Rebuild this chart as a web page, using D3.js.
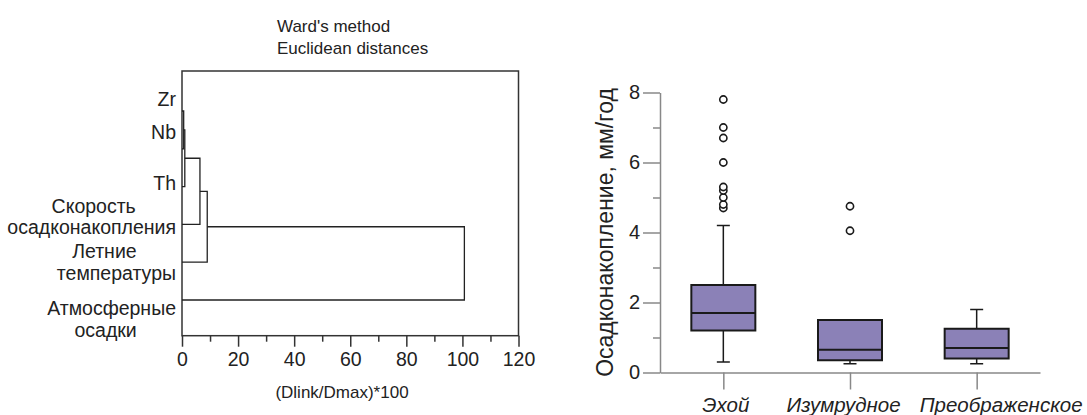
<!DOCTYPE html>
<html>
<head>
<meta charset="utf-8">
<script src="https://cdn.jsdelivr.net/npm/d3@7"></script>
<style>
  body { margin: 0; background: #fff; }
  svg { display: block; font-family: "Liberation Sans", Arial, sans-serif; }
</style>
</head>
<body>
<script>
// ---- data: dendrogram (Ward's method) ----
const leafNames = ["Zr", "Nb", "Th", "Скорость|осадконакопления", "Летние|температуры", "Атмосферные|осадки"];
// linkage steps: [child a, child b, height]; ids >= 6 are clusters made by earlier steps
const linkage = [[0, 1, 0.6], [6, 2, 1.0], [7, 3, 6.4], [8, 4, 9.0], [9, 5, 100.7]];
const distTicks = [0, 20, 40, 60, 80, 100, 120];
const distMinorTicks = [10, 30, 50, 70, 90, 110];

// ---- data: box plots ----
const sites = ["Эхой", "Изумрудное", "Преображенское"];
const whiskerLow = [0.3, 0.25, 0.25];
const q1 = [1.2, 0.35, 0.4];
const median = [1.7, 0.65, 0.7];
const q3 = [2.5, 1.5, 1.25];
const whiskerHigh = [4.2, 1.5, 1.8];
const outliers = [[4.7, 4.8, 5.0, 5.2, 5.3, 6.0, 6.7, 7.0, 7.8], [4.05, 4.75], []];
const rateTicks = [0, 2, 4, 6, 8];
const rateMinorTicks = [1, 3, 5, 7];

const W = 1087, H = 415;
const svg = d3.select("body").append("svg").attr("width", W).attr("height", H);

// ================= left: dendrogram =================
const frame = { left: 182, right: 518.5, top: 71, bottom: 335.7 };
const x = d3.scaleLinear().domain([0, 120]).range([frame.left, frame.right]);
const leafY = d3.scalePoint().domain(d3.range(leafNames.length)).range([111, 300]);

svg.append("text").attr("x", 277).attr("y", 32).attr("font-size", 17).attr("fill", "#222").text("Ward's method");
svg.append("text").attr("x", 277).attr("y", 54).attr("font-size", 17).attr("fill", "#222").text("Euclidean distances");

svg.append("rect")
  .attr("x", frame.left).attr("y", frame.top)
  .attr("width", frame.right - frame.left).attr("height", frame.bottom - frame.top)
  .attr("fill", "none").attr("stroke", "#333").attr("stroke-width", 1.5);

const bottomAxis = svg.append("g").attr("transform", `translate(0,${frame.bottom})`)
  .call(d3.axisBottom(x).tickValues(distTicks).tickSize(11).tickPadding(5).tickFormat(d3.format("d")));
bottomAxis.select(".domain").remove();
bottomAxis.selectAll("line").attr("stroke", "#333").attr("stroke-width", 1.5);
bottomAxis.selectAll("text").attr("font-size", 19.5).attr("fill", "#222").attr("font-family", null);

const minorAxis = svg.append("g").attr("transform", `translate(0,${frame.bottom})`)
  .call(d3.axisBottom(x).tickValues(distMinorTicks).tickSize(6).tickFormat(""));
minorAxis.select(".domain").remove();
minorAxis.selectAll("line").attr("stroke", "#333").attr("stroke-width", 1.5);

svg.append("text").attr("x", 342).attr("y", 392).attr("text-anchor", "middle")
  .attr("dominant-baseline", "central")
  .attr("font-size", 17).attr("fill", "#222").text("(Dlink/Dmax)*100");

// build node positions from linkage and draw brackets
const nodes = leafNames.map((n, i) => ({ y: leafY(i), h: 0 }));
const dendro = svg.append("g").attr("fill", "none").attr("stroke", "#222").attr("stroke-width", 1.3);
linkage.forEach(([a, b, h]) => {
  const na = nodes[a], nb = nodes[b];
  const path = d3.path();
  path.moveTo(x(na.h), na.y);
  path.lineTo(x(h), na.y);
  path.lineTo(x(h), nb.y);
  path.lineTo(x(nb.h), nb.y);
  dendro.append("path").attr("d", path.toString());
  nodes.push({ y: (na.y + nb.y) / 2, h: h });
});

// leaf labels (multi-line blocks, lines roughly centred within a right-aligned block)
const labelShift = [-12, -17, -4, -8, 0, 19];
const lineDx = [[0], [0], [0], [2, 0], [-12, 0], [0, -6]];
const lineGap = 21.5;
leafNames.forEach((name, i) => {
  const lines = name.split("|");
  const g = svg.append("g");
  const texts = lines.map((ln, k) => g.append("text")
    .attr("font-size", 19.5).attr("fill", "#222")
    .attr("dominant-baseline", "central")
    .attr("y", leafY(i) + labelShift[i] + (k - (lines.length - 1) / 2) * lineGap)
    .text(ln));
  const maxW = d3.max(texts, t => t.node().getComputedTextLength());
  const cx = 176 - maxW / 2;
  texts.forEach((t, k) => t.attr("x", cx + lineDx[i][k]).attr("text-anchor", "middle"));
});

// ================= right: box plots =================
const y = d3.scaleLinear().domain([0, 8]).range([372.5, 92.5]);
const xb = d3.scalePoint().domain(sites).range([660, 1040]).padding(0.5);
const boxW = 64, capW = 13;
const axisGrey = "#888";
const siteLabelDx = [2, -7, 24];

const yAxis = svg.append("g").attr("transform", "translate(660,0)")
  .call(d3.axisLeft(y).tickValues(rateTicks).tickSize(17).tickSizeOuter(0).tickPadding(3));
yAxis.select(".domain").attr("stroke", axisGrey).attr("stroke-width", 1.5);
yAxis.selectAll("line").attr("stroke", axisGrey).attr("stroke-width", 1.5);
yAxis.selectAll("text").attr("font-size", 20).attr("fill", "#222").attr("font-family", null);

svg.append("g").attr("transform", "translate(660,0)")
  .call(d3.axisLeft(y).tickValues(rateMinorTicks).tickSize(7).tickFormat(""))
  .call(g => g.select(".domain").remove())
  .selectAll("line").attr("stroke", axisGrey).attr("stroke-width", 1.5);

const xAxis = svg.append("g").attr("transform", `translate(0,${y(0)})`)
  .call(d3.axisBottom(xb).tickSize(17).tickSizeOuter(0).tickPadding(8));
xAxis.select(".domain").attr("stroke", axisGrey).attr("stroke-width", 1.5);
xAxis.selectAll("line").attr("stroke", axisGrey).attr("stroke-width", 1.5);
xAxis.selectAll("text").attr("font-size", 20.5).attr("font-style", "italic")
  .attr("fill", "#222").attr("font-family", null)
  .attr("dx", (d, i) => siteLabelDx[i]);

svg.append("text")
  .attr("transform", `translate(605,${(y(0) + y(8)) / 2}) rotate(-90)`)
  .attr("text-anchor", "middle").attr("dominant-baseline", "central")
  .attr("font-size", 23).attr("fill", "#222")
  .text("Осадконакопление, мм/год");

const boxes = svg.append("g");
sites.forEach((s, i) => {
  const cx = xb(s);
  const g = boxes.append("g").attr("stroke", "#1a1a1a");
  g.append("line").attr("x1", cx).attr("x2", cx).attr("y1", y(whiskerLow[i])).attr("y2", y(q1[i])).attr("stroke-width", 1.5);
  g.append("line").attr("x1", cx).attr("x2", cx).attr("y1", y(q3[i])).attr("y2", y(whiskerHigh[i])).attr("stroke-width", 1.5);
  g.append("line").attr("x1", cx - capW / 2).attr("x2", cx + capW / 2).attr("y1", y(whiskerLow[i])).attr("y2", y(whiskerLow[i])).attr("stroke-width", 1.5);
  g.append("line").attr("x1", cx - capW / 2).attr("x2", cx + capW / 2).attr("y1", y(whiskerHigh[i])).attr("y2", y(whiskerHigh[i])).attr("stroke-width", 1.5);
  g.append("rect").attr("x", cx - boxW / 2).attr("width", boxW)
    .attr("y", y(q3[i])).attr("height", y(q1[i]) - y(q3[i]))
    .attr("fill", "#8b81b7").attr("stroke-width", 2);
  g.append("line").attr("x1", cx - boxW / 2).attr("x2", cx + boxW / 2).attr("y1", y(median[i])).attr("y2", y(median[i])).attr("stroke-width", 2);
  g.selectAll("circle").data(outliers[i]).enter().append("circle")
    .attr("cx", cx).attr("cy", d => y(d)).attr("r", 3.6)
    .attr("fill", "#fff").attr("stroke-width", 1.6);
});
</script>
</body>
</html>
